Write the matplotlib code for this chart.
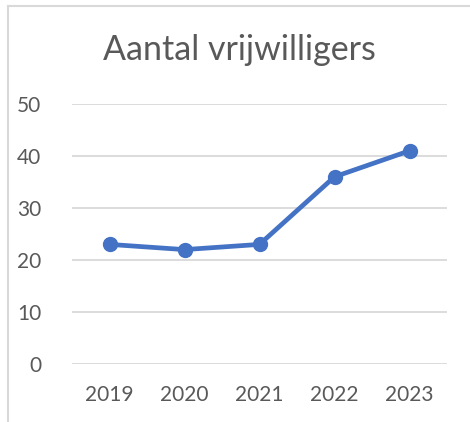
import matplotlib
matplotlib.use('Agg')
import matplotlib.pyplot as plt
from matplotlib.lines import Line2D

years = ['2019', '2020', '2021', '2022', '2023']
vrijwilligers = [23, 22, 23, 36, 41]
y_ticks = [0, 10, 20, 30, 40, 50]

plt.rcParams['font.family'] = ['Lato', 'DejaVu Sans']
txt = '#595959'
grid = '#d9d9d9'
blauw = '#4472c4'

fig = plt.figure(figsize=(4.7, 4.22), dpi=100)
ax = fig.add_axes([72 / 470, 1 - 364 / 422, 375 / 470, 260 / 422])

ax.plot(range(len(years)), vrijwilligers, color=blauw, lw=3.4,
        marker='o', ms=10, solid_capstyle='round', zorder=3, clip_on=False)

ax.set_xlim(-0.5, len(years) - 0.5)
ax.set_ylim(0, 50)
ax.set_yticks(y_ticks)
ax.set_xticks(range(len(years)))
ax.set_xticklabels(years)
ax.yaxis.grid(True, color=grid, lw=1.3)
ax.set_axisbelow(True)
for s in ax.spines.values():
    s.set_visible(False)
ax.tick_params(axis='both', length=0, labelsize=15, colors=txt)
ax.tick_params(axis='y', pad=22)
ax.tick_params(axis='x', pad=15)

fig.text(0.51, 1 - 50 / 422, 'Aantal vrijwilligers', ha='center', va='center',
         fontsize=24.5, color=txt)

# rand van het grafiekvak
fig.add_artist(Line2D([8 / 470, 1], [1 - 6 / 422, 1 - 6 / 422], color=grid, lw=1.5))
fig.add_artist(Line2D([8 / 470, 8 / 470], [0, 1 - 6 / 422], color=grid, lw=1.5))

fig.savefig('out.png', dpi=100, facecolor='white')
